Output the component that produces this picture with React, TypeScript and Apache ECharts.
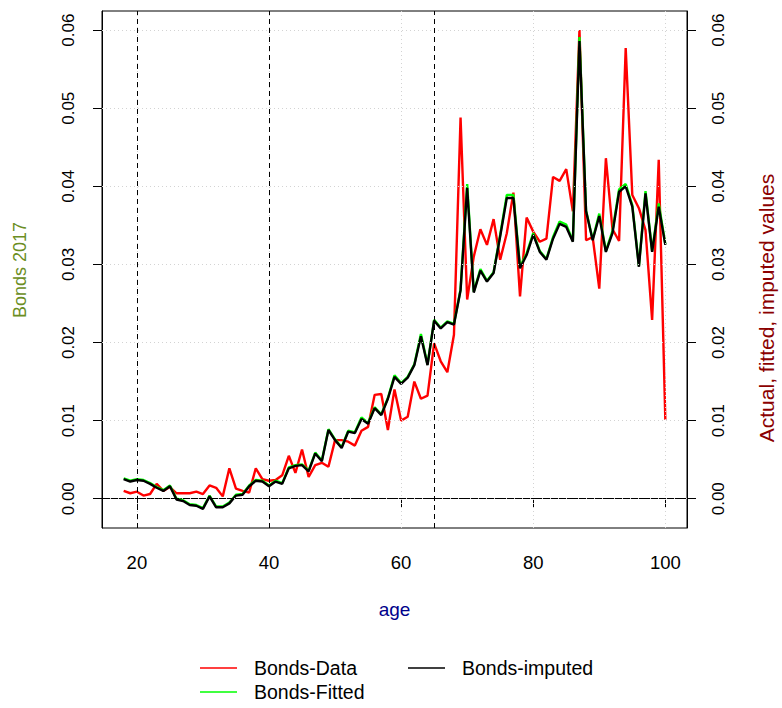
import React, { useEffect, useRef } from "react";
import * as echarts from "echarts";

const ages: number[] = [];
for (let a = 18; a <= 100; a++) ages.push(a);

// Bonds-Data (red), ages 18..100
const bondsData = [
  0.0010, 0.0007, 0.0009, 0.0004, 0.0006, 0.0019, 0.0010, 0.0015, 0.0007, 0.0007,
  0.0007, 0.0009, 0.0006, 0.0017, 0.0014, 0.0003, 0.0039, 0.0013, 0.0010, 0.0008,
  0.0039, 0.0025, 0.0023, 0.0024, 0.0030, 0.0055, 0.0033, 0.0063, 0.0028, 0.0043,
  0.0046, 0.0041, 0.0075, 0.0075, 0.0073, 0.0068, 0.0087, 0.0092, 0.0133, 0.0134,
  0.0088, 0.0140, 0.0100, 0.0105, 0.0150, 0.0128, 0.0132, 0.0199, 0.0176, 0.0162,
  0.0210, 0.0488, 0.0255, 0.0310, 0.0345, 0.0325, 0.0358, 0.0306, 0.0340, 0.0392,
  0.0259, 0.0360, 0.0342, 0.0329, 0.0333, 0.0412, 0.0407, 0.0422, 0.0368, 0.0600,
  0.0331, 0.0335, 0.0269, 0.0436, 0.0345, 0.0330, 0.0577, 0.0389, 0.0372, 0.0344,
  0.0229, 0.0434, 0.0101,
];

// Bonds-Fitted (green)
const bondsFitted = [
  0.0026, 0.0023, 0.0025, 0.0024, 0.0020, 0.0015, 0.0011, 0.0017, 0.0000, -0.0002,
  -0.0007, -0.0008, -0.0012, 0.0004, -0.0010, -0.0010, -0.0005, 0.0005, 0.0006, 0.0017,
  0.0024, 0.0023, 0.0017, 0.0023, 0.0020, 0.0040, 0.0043, 0.0044, 0.0036, 0.0059,
  0.0049, 0.0089, 0.0076, 0.0066, 0.0087, 0.0085, 0.0104, 0.0097, 0.0117, 0.0108,
  0.0129, 0.0158, 0.0148, 0.0156, 0.0172, 0.0211, 0.0172, 0.0229, 0.0219, 0.0227,
  0.0224, 0.0268, 0.0403, 0.0265, 0.0294, 0.0279, 0.0290, 0.0338, 0.0389, 0.0389,
  0.0297, 0.0314, 0.0340, 0.0317, 0.0307, 0.0335, 0.0355, 0.0351, 0.0330, 0.0591,
  0.0369, 0.0332, 0.0365, 0.0317, 0.0343, 0.0396, 0.0403, 0.0376, 0.0298, 0.0394,
  0.0317, 0.0378, 0.0326,
];

// Bonds-imputed (black)
const bondsImputed = [
  0.0025, 0.0022, 0.0024, 0.0023, 0.0019, 0.0014, 0.0010, 0.0016, -0.0001, -0.0003,
  -0.0008, -0.0009, -0.0013, 0.0003, -0.0011, -0.0011, -0.0006, 0.0004, 0.0005, 0.0016,
  0.0023, 0.0022, 0.0016, 0.0022, 0.0019, 0.0039, 0.0042, 0.0043, 0.0035, 0.0058,
  0.0048, 0.0088, 0.0075, 0.0065, 0.0086, 0.0084, 0.0102, 0.0096, 0.0116, 0.0107,
  0.0128, 0.0156, 0.0147, 0.0155, 0.0171, 0.0208, 0.0171, 0.0228, 0.0218, 0.0226,
  0.0223, 0.0267, 0.0398, 0.0264, 0.0292, 0.0278, 0.0289, 0.0336, 0.0385, 0.0385,
  0.0295, 0.0312, 0.0338, 0.0316, 0.0306, 0.0333, 0.0352, 0.0348, 0.0329, 0.0586,
  0.0368, 0.0331, 0.0362, 0.0316, 0.0340, 0.0393, 0.0400, 0.0374, 0.0297, 0.0391,
  0.0316, 0.0374, 0.0325,
];

const xTicks = [20, 40, 60, 80, 100];
const yTicks = [0, 0.01, 0.02, 0.03, 0.04, 0.05, 0.06];
const dashedAges = [20, 40, 65];
const dashedLevels = [0];

const seriesNames = ["Bonds-Data", "Bonds-Fitted", "Bonds-imputed"];
const seriesColors = ["#FF0000", "#00FF00", "#000000"];

const FONT = "'Liberation Sans', Arial, sans-serif";

export default function App() {
  const ref = useRef<HTMLDivElement>(null);

  useEffect(() => {
    document.body.style.margin = "0";
    const chart = echarts.init(ref.current as HTMLDivElement, null, { renderer: "svg" });

    const toPairs = (vals: number[]) => ages.map((a, i) => [a, vals[i]]);

    const gridLine = { color: "#D3D3D3", type: [1, 3] as any, width: 1 };
    const dashLine = { color: "#000000", type: [5, 4] as any, width: 1 };

    const yAxisBase = (position: "left" | "right", margin: number) => ({
      type: "value",
      position,
      min: -0.00375,
      max: 0.06245,
      splitLine: { show: false },
      axisLine: { show: true, lineStyle: { color: "#000", width: 1 } },
      axisTick: {
        show: true,
        inside: false,
        length: 9,
        customValues: yTicks,
        lineStyle: { color: "#000", width: 1 },
      },
      axisLabel: {
        show: true,
        customValues: yTicks,
        rotate: 90,
        margin,
        fontSize: 17,
        color: "#000",
        fontFamily: FONT,
        formatter: (v: number) => v.toFixed(2),
      },
    });

    const legendCols = [
      { x: 200, items: [0, 1] },
      { x: 408, items: [2] },
    ];
    const legendGraphics: any[] = [];
    legendCols.forEach((col) => {
      col.items.forEach((idx, row) => {
        const y = 668 + row * 24;
        legendGraphics.push({
          type: "line",
          shape: { x1: col.x, y1: y, x2: col.x + 37, y2: y },
          style: { stroke: seriesColors[idx], lineWidth: 1.5 },
        });
        legendGraphics.push({
          type: "text",
          x: col.x + 54,
          y,
          style: {
            text: seriesNames[idx],
            fill: "#000",
            font: `19.5px ${FONT}`,
            textAlign: "left",
            textVerticalAlign: "middle",
          },
        });
      });
    });

    const option: any = {
      animation: false,
      backgroundColor: "#FFFFFF",
      textStyle: { fontFamily: FONT },
      grid: {
        left: 102,
        top: 11,
        width: 585,
        height: 517,
        show: true,
        borderColor: "#000",
        borderWidth: 1,
        backgroundColor: "transparent",
        containLabel: false,
      },
      xAxis: {
        type: "value",
        min: 14.72,
        max: 103.28,
        splitLine: { show: false },
        axisLine: { show: true, lineStyle: { color: "#000", width: 1 } },
        axisTick: {
          show: true,
          inside: false,
          length: 9,
          customValues: xTicks,
          lineStyle: { color: "#000", width: 1 },
        },
        axisLabel: {
          show: true,
          customValues: xTicks,
          margin: 25,
          fontSize: 18.5,
          color: "#000",
          fontFamily: FONT,
        },
      },
      yAxis: [yAxisBase("left", 25), yAxisBase("right", 23)],
      series: [
        {
          name: "refs",
          type: "line",
          data: [[20, 0]],
          symbol: "none",
          lineStyle: { opacity: 0 },
          silent: true,
          z: 1,
          markLine: {
            silent: true,
            symbol: "none",
            label: { show: false },
            data: [
              ...xTicks.map((v) => ({ xAxis: v, lineStyle: gridLine })),
              ...yTicks.map((v) => ({ yAxis: v, lineStyle: gridLine })),
              ...dashedAges.map((v) => ({ xAxis: v, lineStyle: dashLine })),
              ...dashedLevels.map((v) => ({ yAxis: v, lineStyle: dashLine })),
            ],
          },
        },
        {
          name: seriesNames[0],
          type: "line",
          data: toPairs(bondsData),
          symbol: "none",
          lineStyle: { color: seriesColors[0], width: 2.4 },
          z: 2,
        },
        {
          name: seriesNames[1],
          type: "line",
          data: toPairs(bondsFitted),
          symbol: "none",
          lineStyle: { color: seriesColors[1], width: 2.4 },
          z: 3,
        },
        {
          name: seriesNames[2],
          type: "line",
          data: toPairs(bondsImputed),
          symbol: "none",
          lineStyle: { color: seriesColors[2], width: 2.4 },
          z: 4,
        },
      ],
      graphic: [
        {
          type: "text",
          x: 394.5,
          y: 609,
          style: {
            text: "age",
            fill: "#00008B",
            font: `19px ${FONT}`,
            textAlign: "center",
            textVerticalAlign: "middle",
          },
        },
        {
          type: "text",
          x: 20,
          y: 270,
          rotation: Math.PI / 2,
          style: {
            text: "Bonds 2017",
            fill: "#6B8E23",
            font: `18px ${FONT}`,
            textAlign: "center",
            textVerticalAlign: "middle",
          },
        },
        {
          type: "text",
          x: 766,
          y: 308,
          rotation: Math.PI / 2,
          style: {
            text: "Actual, fitted, imputed values",
            fill: "#8B0000",
            font: `21px ${FONT}`,
            textAlign: "center",
            textVerticalAlign: "middle",
          },
        },
        ...legendGraphics,
      ],
    };

    chart.setOption(option);
    return () => chart.dispose();
  }, []);

  return <div ref={ref} style={{ width: 782, height: 708 }} />;
}
